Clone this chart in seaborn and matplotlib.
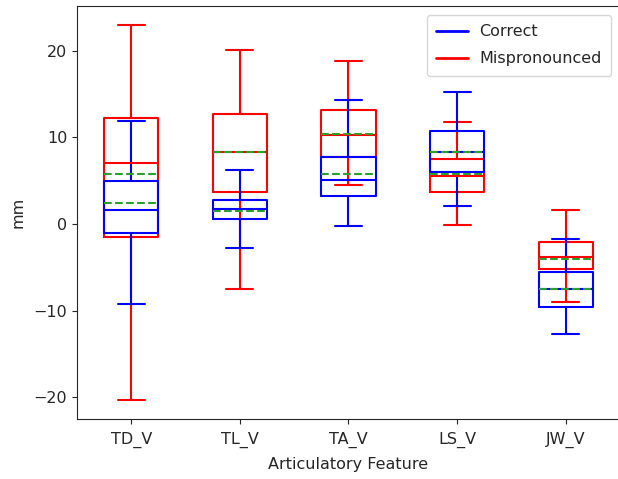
import matplotlib
matplotlib.use("Agg")
import matplotlib.pyplot as plt
from matplotlib.lines import Line2D
import seaborn as sns

features = ["TD_V", "TL_V", "TA_V", "LS_V", "JW_V"]

# Correct (blue) summary statistics per feature
correct_whislo = [-9.23, -2.81, -0.19, 2.04, -12.73]
correct_q1     = [-1.00, 0.58, 3.19, 6.04, -9.62]
correct_med    = [1.58, 1.73, 5.04, 8.35, -7.46]
correct_mean   = [2.38, 1.54, 5.77, 8.35, -7.46]
correct_q3     = [4.96, 2.77, 7.77, 10.73, -5.54]
correct_whishi = [11.88, 6.19, 14.27, 15.23, -1.69]

# Mispronounced (red) summary statistics per feature
mis_whislo = [-20.30, -7.54, 4.46, -0.15, -9.00]
mis_q1     = [-1.46, 3.65, 7.69, 3.73, -5.19]
mis_med    = [7.00, 8.27, 10.30, 5.58, -3.85]
mis_mean   = [5.81, 8.27, 10.35, 5.80, -4.00]
mis_q3     = [12.19, 12.65, 13.12, 7.46, -2.12]
mis_whishi = [22.92, 20.04, 18.77, 11.73, 1.58]

sns.set_style("ticks")
plt.rcParams["font.family"] = ["DejaVu Sans"]

fig = plt.figure(figsize=(6.18, 4.79), dpi=100)
ax = fig.add_axes([0.1246, 0.1253, 0.8786, 0.8622])


def make_stats(lo, q1, med, mean, q3, hi):
    return [dict(whislo=a, q1=b, med=c, mean=d, q3=e, whishi=f, fliers=[], label=lab)
            for a, b, c, d, e, f, lab in zip(lo, q1, med, mean, q3, hi, features)]


def draw(stats, color):
    lw = 1.5
    ax.bxp(stats, positions=range(1, len(stats) + 1), widths=0.5,
           showmeans=True, meanline=True, showfliers=False,
           boxprops=dict(color=color, linewidth=lw),
           whiskerprops=dict(color=color, linewidth=lw),
           capprops=dict(color=color, linewidth=lw),
           medianprops=dict(color=color, linewidth=lw),
           meanprops=dict(color="#2ca02c", linestyle="--", linewidth=lw))


draw(make_stats(mis_whislo, mis_q1, mis_med, mis_mean, mis_q3, mis_whishi), "red")
draw(make_stats(correct_whislo, correct_q1, correct_med, correct_mean, correct_q3, correct_whishi), "blue")

ax.spines["right"].set_visible(False)
ax.set_xlim(0.5, 5.5)
ax.set_ylim(-22.5, 25.15)
ax.set_xticks(range(1, len(features) + 1))
ax.set_xticklabels(features)
ax.set_yticks([-20, -10, 0, 10, 20])
ax.set_yticklabels(["\u221220", "\u221210", "0", "10", "20"])
ax.tick_params(axis="x", labelsize=11.5, pad=6)
ax.tick_params(axis="y", labelsize=11.5)
ax.set_xlabel("Articulatory Feature", fontsize=11.5, labelpad=6)
ax.set_ylabel("mm", fontsize=11.5, labelpad=6)

handles = [Line2D([0], [0], color="blue", lw=2), Line2D([0], [0], color="red", lw=2)]
ax.legend(handles, ["Correct", "Mispronounced"], loc="upper right", fontsize=11.5,
          labelspacing=0.75, borderpad=0.6, borderaxespad=0.55, handletextpad=0.7)

fig.savefig("out.png", dpi=100)
